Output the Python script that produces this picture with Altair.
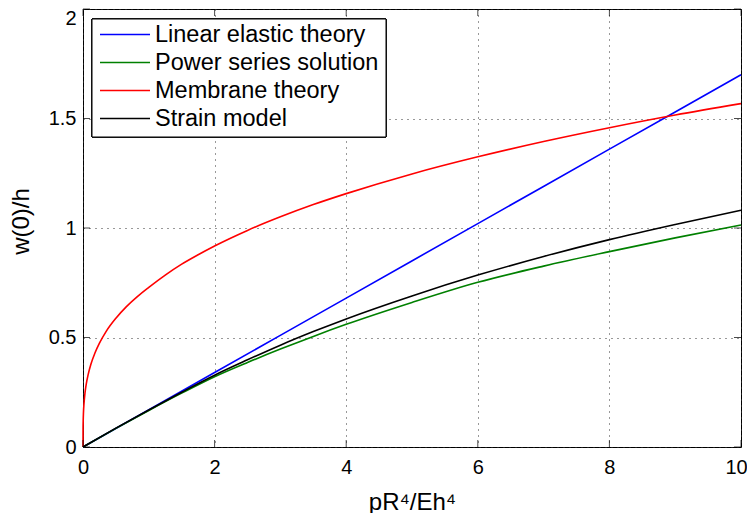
import altair as alt
import pandas as pd

# ---- data ----
series_names = ["Linear elastic theory", "Power series solution", "Membrane theory", "Strain model"]
series_colors = ["#0000ff", "#008000", "#ff0000", "#000000"]

linear_x = [0, 2, 4, 6, 8, 10]
linear_y = [0, 0.34, 0.68, 1.02, 1.36, 1.70]

membrane_x = [0, 0.001, 0.003, 0.007, 0.015, 0.03, 0.05, 0.08, 0.12, 0.18, 0.25, 0.35, 0.5, 0.66,
              0.83, 1, 1.25, 1.5, 1.75, 2, 2.5, 3, 3.5, 4, 5, 6, 7, 8, 9, 10]
membrane_y = [0, 0.086, 0.12, 0.157, 0.198, 0.246, 0.288, 0.333, 0.378, 0.428, 0.474, 0.527, 0.588,
              0.641, 0.688, 0.729, 0.785, 0.835, 0.878, 0.918, 0.989, 1.051, 1.107, 1.157, 1.247,
              1.325, 1.395, 1.458, 1.516, 1.568]

power_x = [0, 0.5, 1, 1.5, 2, 2.5, 3, 3.5, 4, 5, 6, 7, 8, 9, 10]
power_y = [0, 0.085, 0.167, 0.246, 0.321, 0.386, 0.447, 0.505, 0.56, 0.66, 0.752, 0.826, 0.892, 0.955, 1.014]

strain_x = [0, 0.5, 1, 1.5, 2, 2.5, 3, 3.5, 4, 5, 6, 7, 8, 9, 10]
strain_y = [0, 0.086, 0.169, 0.25, 0.328, 0.398, 0.465, 0.527, 0.585, 0.69, 0.785, 0.87, 0.947, 1.016, 1.081]

x_ticks = [0, 2, 4, 6, 8, 10]
y_ticks = [0, 0.5, 1, 1.5, 2]

# ---- tables ----
rows = []
for name, xs, ys in [
    ("Linear elastic theory", linear_x, linear_y),
    ("Membrane theory", membrane_x, membrane_y),
    ("Power series solution", power_x, power_y),
    ("Strain model", strain_x, strain_y),
]:
    for i, (a, b) in enumerate(zip(xs, ys)):
        rows.append({"series": name, "x": a, "y": b, "i": i})
df = pd.DataFrame(rows)
xt = pd.DataFrame({"v": x_ticks})
yt = pd.DataFrame({"v": y_ticks})
leg = pd.DataFrame({"series": series_names})

W, H = 658, 438
xscale = alt.Scale(domain=[0, 10], nice=False, zero=False)
yscale = alt.Scale(domain=[0, 2], nice=False, zero=False)
cscale = alt.Scale(domain=series_names, range=series_colors)

lines = alt.Chart(df).mark_line(strokeWidth=1.6, interpolate="monotone").encode(
    x=alt.X("x:Q", scale=xscale,
            axis=alt.Axis(values=x_ticks, format="~g", title="pR\u2074/Eh\u2074",
                          labelFlush=False,
                          labelOffset={"condition": {"test": "datum.value >= 10", "value": -5},
                                       "value": 0},
                          titleY=62, titleBaseline="alphabetic")),
    y=alt.Y("y:Q", scale=yscale,
            axis=alt.Axis(values=y_ticks, format="~g", title="w(0)/h", labelFlush=False,
                          labelOffset={"condition": {"test": "datum.value >= 2", "value": 9},
                                       "value": 0},
                          titleX=-55, titleY=212, titleBaseline="alphabetic")),
    color=alt.Color("series:N", scale=cscale, legend=None),
    order="i:Q",
)

tk = dict(color="black", thickness=1, size=7)
t_bottom = alt.Chart(xt).mark_tick(**tk).encode(x=alt.X("v:Q", scale=xscale), y=alt.value(H - 3.5))
t_top = alt.Chart(xt).mark_tick(**tk).encode(x=alt.X("v:Q", scale=xscale), y=alt.value(3.5))
t_left = alt.Chart(yt).mark_tick(**tk).encode(y=alt.Y("v:Q", scale=yscale), x=alt.value(3.5))
t_right = alt.Chart(yt).mark_tick(**tk).encode(y=alt.Y("v:Q", scale=yscale), x=alt.value(W - 3.5))

main = alt.layer(lines, t_bottom, t_top, t_left, t_right)

box = alt.Chart(leg).mark_rect(fill="white", stroke="black", strokeWidth=1).encode(
    x=alt.value(9), x2=alt.value(303), y=alt.value(10), y2=alt.value(128)
)
lscale = alt.Scale(type="point", domain=series_names, range=[25.5, 109.5], padding=0)
leg_rules = alt.Chart(leg).mark_rule(strokeWidth=1.6).encode(
    x=alt.value(17), x2=alt.value(67),
    y=alt.Y("series:N", scale=lscale, axis=None),
    color=alt.Color("series:N", scale=cscale, legend=None),
)
leg_text = alt.Chart(leg).mark_text(align="left", baseline="middle", fontSize=23.5,
                                    font="Liberation Sans", color="black").encode(
    x=alt.value(72),
    y=alt.Y("series:N", scale=lscale, axis=None),
    text="series:N",
)

chart = alt.layer(main, box, leg_rules, leg_text).resolve_scale(y="independent").properties(
    width=W, height=H,
    autosize=alt.AutoSizeParams(type="none"),
    padding={"left": 75, "top": 1, "right": 6, "bottom": 66},
).configure_view(stroke="black", strokeWidth=1).configure_axis(
    grid=True, gridDash=[1, 5], gridColor="#333333", gridWidth=1,
    domain=False, ticks=False,
    labelFont="Liberation Sans", labelFontSize=20, labelColor="black",
    titleFont="Liberation Sans", titleFontSize=24, titleFontWeight="normal", titleColor="black",
).configure_axisX(labelPadding=10).configure_axisY(labelPadding=7)

chart.save("out.html", embed_options={"renderer": "svg", "actions": False})
